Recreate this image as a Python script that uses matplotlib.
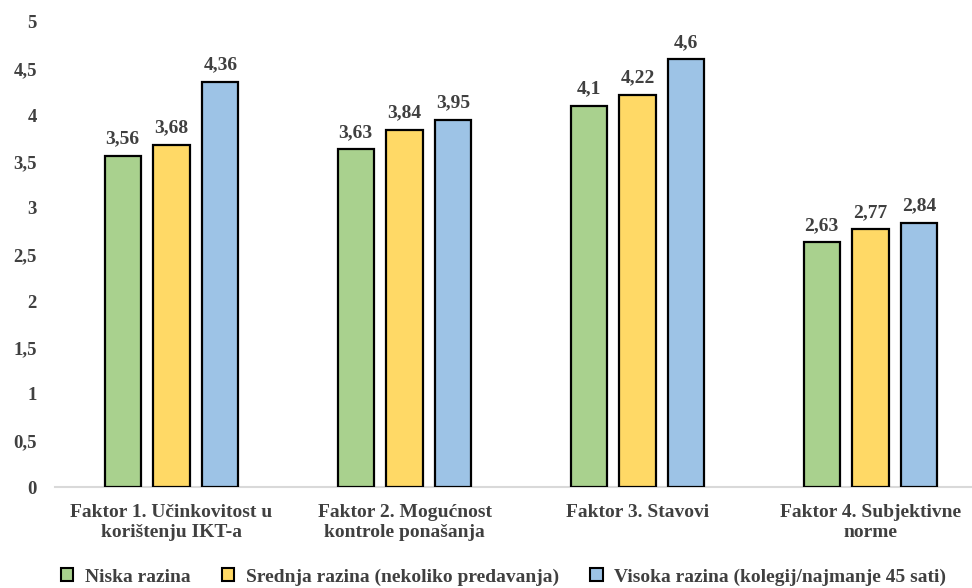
import matplotlib
matplotlib.use("Agg")
import matplotlib.pyplot as plt
import numpy as np
from matplotlib.patches import Patch

categories = ["Faktor 1. Učinkovitost u\nkorištenju IKT-a",
              "Faktor 2. Mogućnost\nkontrole ponašanja",
              "Faktor 3. Stavovi",
              "Faktor 4. Subjektivne\nnorme"]
series_names = ["Niska razina",
                "Srednja razina (nekoliko predavanja)",
                "Visoka razina (kolegij/najmanje 45 sati)"]
niska = [3.56, 3.63, 4.1, 2.63]
srednja = [3.68, 3.84, 4.22, 2.77]
visoka = [4.36, 3.95, 4.6, 2.84]
yticks = [0, 0.5, 1, 1.5, 2, 2.5, 3, 3.5, 4, 4.5, 5]

colors = ["#A9D18E", "#FFD966", "#9DC3E6"]
txt = "#404040"
plt.rcParams['font.family'] = ['Liberation Serif', 'DejaVu Serif']
plt.rcParams['font.weight'] = 'bold'

fig = plt.figure(figsize=(9.72, 5.88), dpi=100)
ax = fig.add_axes([55/972, 1-487/588, 1-55/972, (487-22)/588])

x = np.arange(len(categories))
w = 0.155
step = 0.21
for i, (vals, c) in enumerate(zip([niska, srednja, visoka], colors)):
    pos = x + (i-1)*step
    ax.bar(pos, vals, width=w, color=c, edgecolor="black", linewidth=1.6, zorder=3)
    for p, v in zip(pos, vals):
        ax.annotate(f"{v:g}".replace(".", ","), (p, v), xytext=(0, 6),
                    textcoords="offset points", ha="center", va="bottom",
                    fontsize=14, color=txt, fontweight="bold")

ax.set_xlim(-0.5, 3.5 - 15/233)
ax.set_ylim(0, 5)
ax.set_yticks(yticks)
ax.set_yticklabels([f"{t:g}".replace(".", ",") for t in yticks], fontsize=13.5,
                   color=txt, fontweight="bold")
ax.set_xticks(x)
ax.set_xticklabels(categories, fontsize=14, color=txt, fontweight="bold",
                   linespacing=1.25)
ax.tick_params(axis="both", length=0)
ax.tick_params(axis="y", pad=13)
ax.tick_params(axis="x", pad=12)
for s in ["top", "right", "left"]:
    ax.spines[s].set_visible(False)
ax.spines["bottom"].set_color("#D9D9D9")
ax.spines["bottom"].set_linewidth(1.5)

handles = [Patch(facecolor=c, edgecolor="black", linewidth=1.5) for c in colors]
fig.legend(handles, series_names, loc="center", bbox_to_anchor=(0.518, 1-577/588),
           ncol=3, frameon=False, handlelength=0.65, handleheight=0.65,
           handletextpad=0.6, columnspacing=1.6, labelcolor=txt,
           prop={'weight': 'bold', 'size': 14})

fig.savefig("out.png", dpi=100)
